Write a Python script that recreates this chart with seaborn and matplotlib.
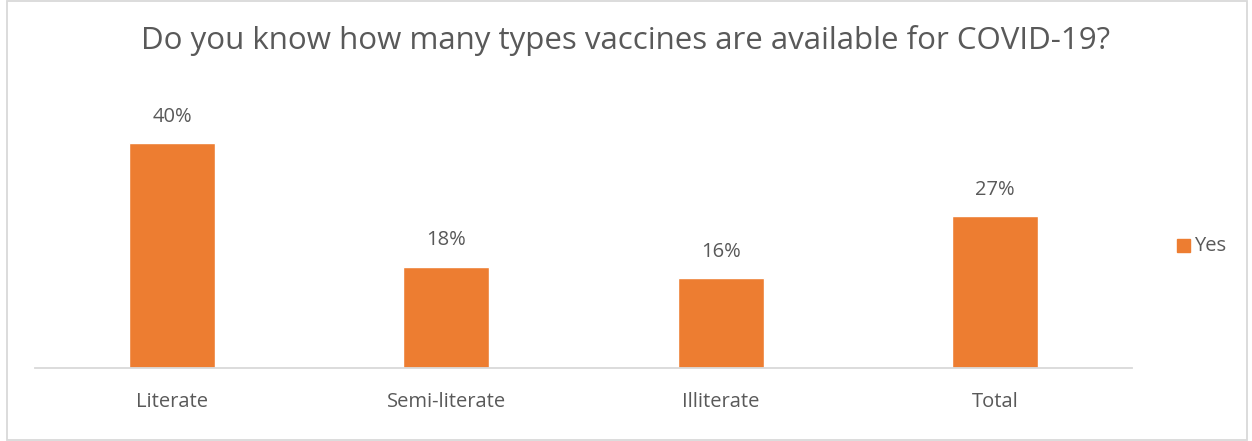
import matplotlib
matplotlib.use("Agg")
import matplotlib.pyplot as plt
import seaborn as sns
import pandas as pd
from matplotlib.patches import Rectangle

categories = ["Literate", "Semi-literate", "Illiterate", "Total"]
yes_share = [0.40, 0.18, 0.16, 0.27]
series_name = "Yes"

sns.set_theme(style="white")
plt.rcParams['font.family'] = ['Open Sans', 'DejaVu Sans']
text_col = "#595959"
bar_col = "#ED7D31"

data = pd.DataFrame({"group": categories, "share": yes_share, "answer": series_name})

fig = plt.figure(figsize=(12.52, 4.41), dpi=100)
ax = fig.add_axes([35 / 1252, 73 / 441, 1097 / 1252, 253 / 441])

sns.barplot(data=data, x="group", y="share", hue="answer", palette=[bar_col],
            width=0.314, saturation=1, ax=ax, legend=False)

for p, v in zip(ax.patches, yes_share):
    ax.annotate(f"{v:.0%}", (p.get_x() + p.get_width() / 2, v), xytext=(0, 19),
                textcoords="offset points", ha="center", va="center",
                fontsize=14.5, color=text_col)

ax.set_ylim(0, 0.45)
ax.set_xlim(-0.5, 3.5)
ax.set_yticks([])
ax.set_xlabel("")
ax.set_ylabel("")
ax.tick_params(axis="x", length=0, pad=17, labelsize=14.5, labelcolor=text_col)
for s in ["top", "right", "left"]:
    ax.spines[s].set_visible(False)
ax.spines["bottom"].set_color("#D9D9D9")
ax.spines["bottom"].set_linewidth(1.3)

fig.text(0.5, 1 - 41 / 441, "Do you know how many types vaccines are available for COVID-19?",
         ha="center", va="center", fontsize=22.5, color=text_col)

# legend
fig.patches.append(Rectangle((1177 / 1252, 1 - 252 / 441), 13 / 1252, 13 / 441,
                             transform=fig.transFigure, color=bar_col))
fig.text(1194 / 1252, 1 - 246 / 441, series_name, ha="left", va="center",
         fontsize=14.5, color=text_col)

# chart border
fig.patches.append(Rectangle((7 / 1252, 0.002), 1240 / 1252, 0.996, transform=fig.transFigure,
                             fill=False, edgecolor="#D9D9D9", linewidth=1.3))

fig.savefig("out.png", dpi=100)
